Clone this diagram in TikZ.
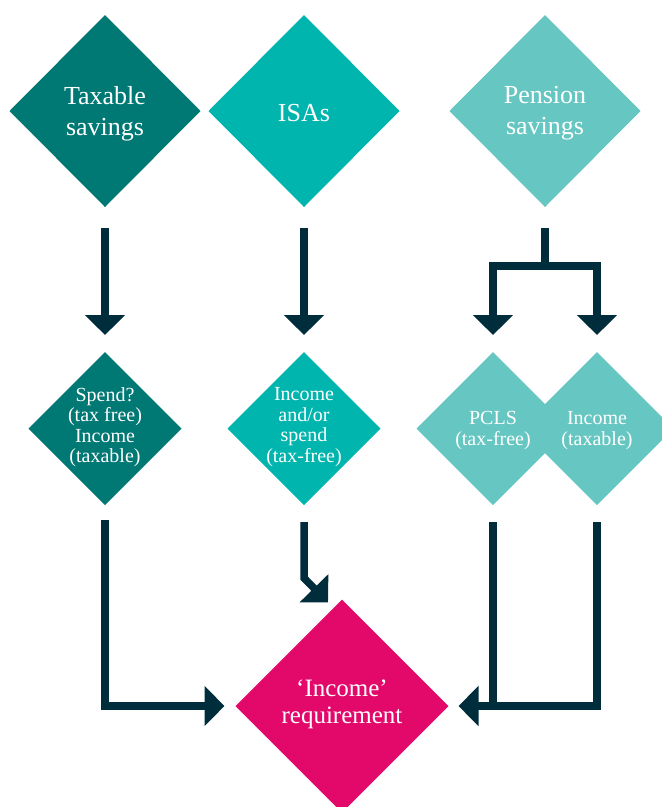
\documentclass[tikz,border=0pt]{standalone}
\usepackage{fontspec}
\setmainfont{Liberation Serif}
\usetikzlibrary{arrows.meta,positioning,shapes.geometric}
\definecolor{taxteal}{RGB}{0,120,116}
\definecolor{isateal}{RGB}{0,181,173}
\definecolor{penteal}{RGB}{102,198,193}
\definecolor{needpink}{RGB}{226,9,106}
\definecolor{arrownavy}{RGB}{0,45,60}
\tikzset{
  dia/.style={diamond,draw=none,inner sep=0pt,outer sep=0pt},
  diaBig/.style={dia,minimum width=191pt,minimum height=192pt},
  diaMid/.style={dia,minimum width=153pt,minimum height=153pt},
  diaEnd/.style={dia,minimum width=213pt,minimum height=213pt,fill=needpink},
  txtTop/.style={text=white,align=center,font=\fontsize{26}{31}\selectfont},
  txtMid/.style={text=white,align=center,font=\fontsize{20}{20.5}\selectfont},
  txtEnd/.style={text=white,align=center,font=\fontsize{25}{27}\selectfont},
  trunk/.style={draw=arrownavy,line width=7.5pt},
  flow/.style={trunk,-{Triangle[length=20pt,width=39pt]}},
}

\begin{document}
\begin{tikzpicture}[x=1pt,y=-1pt]
  \useasboundingbox (0,0) rectangle (662,807);
  \clip (0,0) rectangle (662,807);

  % sources
  \node[diaBig,fill=taxteal] (tax) at (105,111) {};
  \node[diaBig,fill=isateal,right=8pt of tax] (isa) {};
  \node[diaBig,fill=penteal,right=50pt of isa] (pen) {};

  % uses
  \node[diaMid,fill=taxteal,below=145pt of tax] (taxuse) {};
  \node[diaMid,fill=isateal,below=145pt of isa] (isause) {};
  \node[diaMid,fill=penteal,below=145pt of pen,xshift=-52pt] (pcls) {};
  \node[diaMid,fill=penteal,right=-49pt of pcls] (peninc) {};

  \node[diaEnd,below=94.5pt of isause,xshift=38pt] (need) {};

  % texts
  \node[txtTop] (taxT) at ([yshift=-2.5pt]tax) {Taxable\\savings};
  \node[txtTop] (isaT) at ([yshift=-2.5pt]isa) {ISAs};
  \node[txtTop] (penT) at ([yshift=-2.5pt]pen) {Pension\\savings};
  \node[txtMid] (taxuseT) at ([yshift=1.5pt]taxuse) {Spend?\\(tax free)\\Income\\(taxable)};
  \node[txtMid] (isauseT) at ([yshift=1.5pt]isause) {Income\\and/or\\spend\\(tax-free)};
  \node[txtMid] (pclsT) at ([yshift=-2pt]pcls) {PCLS\\(tax-free)};
  \node[txtMid] (penincT) at ([yshift=-2pt]peninc) {Income\\(taxable)};
  \node[txtEnd] (needT) at ([yshift=1.5pt]need) {‘Income’\\requirement};

  % top arrows
  \draw[flow] ([yshift=-21pt]tax.south) -- ([yshift=17pt]taxuse.north);
  \draw[flow] ([yshift=-21pt]isa.south) -- ([yshift=17pt]isause.north);
  \coordinate (fork) at ([yshift=-59pt]pen.south);
  \draw[trunk] ([yshift=-21pt]pen.south) -- (fork);
  \draw[flow] (fork) -| ([yshift=17pt]pcls.north);
  \draw[flow] (fork) -| ([yshift=17pt]peninc.north);

  % bottom arrows
  \draw[flow] ([yshift=-15pt]taxuse.south) |- ([xshift=-11pt]need.west);
  \draw[flow] ([yshift=-17pt]isause.south) -- ++(0,56)
    -- ([xshift=-14pt,yshift=-3pt]need.north);
  \draw[trunk] ([yshift=-17pt]pcls.south) -- (pcls.south |- need.west);
  \draw[flow] ([yshift=-17pt]peninc.south) |- ([xshift=10pt]need.east);
\end{tikzpicture}
\end{document}
